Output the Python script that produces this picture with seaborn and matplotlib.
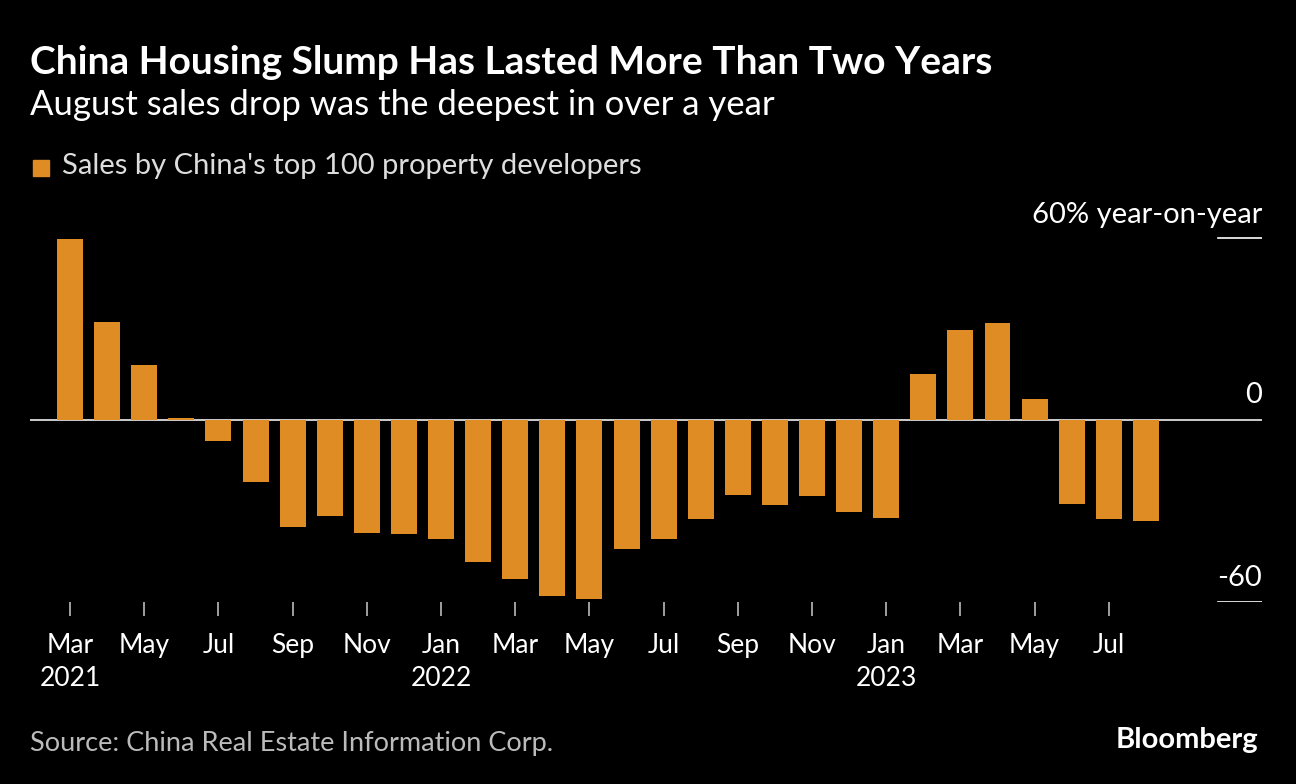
import matplotlib
matplotlib.use("Agg")
import matplotlib.pyplot as plt
import seaborn as sns
import pandas as pd

months = ["Mar 2021","Apr 2021","May 2021","Jun 2021","Jul 2021","Aug 2021","Sep 2021","Oct 2021","Nov 2021","Dec 2021",
          "Jan 2022","Feb 2022","Mar 2022","Apr 2022","May 2022","Jun 2022","Jul 2022","Aug 2022","Sep 2022","Oct 2022",
          "Nov 2022","Dec 2022","Jan 2023","Feb 2023","Mar 2023","Apr 2023","May 2023","Jun 2023","Jul 2023","Aug 2023"]
sales_yoy = [59.7,32.3,18.2,0.7,-6.9,-20.5,-35.3,-31.7,-37.3,-37.6,
             -39.3,-46.9,-52.5,-58.1,-59.1,-42.6,-39.3,-32.7,-24.8,-28.1,
             -25.1,-30.4,-32.3,15.2,29.7,32.0,6.9,-27.7,-32.7,-33.3]
tick_labels = ["Mar\n2021","May","Jul","Sep","Nov","Jan\n2022","Mar","May","Jul","Sep","Nov","Jan\n2023","Mar","May","Jul"]

FONT = "Lato"
plt.rcParams["font.family"] = FONT
BG = "black"; ORANGE = "#E08C24"

df = pd.DataFrame({"month": months, "v": sales_yoy})
fig = plt.figure(figsize=(12.96, 7.84), dpi=100, facecolor=BG)
ax = fig.add_axes([30/1296, 182/784, 1232/1296, 388/784], facecolor=BG)
sns.barplot(data=df, x="month", y="v", color=ORANGE, width=0.7, saturation=1, ax=ax)
ax.set_ylim(-60, 68)
ax.set_xlim(-1.08, 32.13)
for s in ax.spines.values():
    s.set_visible(False)
ax.set_yticks([])
ax.set_xlabel(""); ax.set_ylabel("")
ax.set_xticks(range(0, 30, 2))
ax.set_xticklabels(tick_labels, fontsize=19, color="white", linespacing=1.4)
ax.tick_params(axis="x", length=10, width=1.2, color="#bbbbbb", pad=12)
for lab in ax.get_xticklabels():
    lab.set_verticalalignment("top")
ax.axhline(0, color="#dddddd", lw=1.3, zorder=0)
for y in (60, -60):
    ax.axhline(y, xmin=0.964, xmax=1, color="white", lw=1.2)
tr = ax.get_yaxis_transform()
ax.text(1, 63.5, "60% year-on-year", transform=tr, ha="right", va="bottom", color="white", fontsize=21)
ax.text(1, 4, "0", transform=tr, ha="right", va="bottom", color="white", fontsize=21)
ax.text(1, -56.5, "-60", transform=tr, ha="right", va="bottom", color="white", fontsize=21)

fig.text(30/1296, 1-63/784, "China Housing Slump Has Lasted More Than Two Years", color="white", fontsize=28, fontweight="bold", va="center")
fig.text(30/1296, 1-105/784, "August sales drop was the deepest in over a year", color="white", fontsize=25, va="center")
fig.patches.append(plt.Rectangle((33/1296, 1-176/784), 16/1296, 16/784, transform=fig.transFigure, color=ORANGE))
fig.text(62/1296, 1-166/784, "Sales by China's top 100 property developers", color="#dddddd", fontsize=21, va="center")
fig.text(30/1296, 1-743/784, "Source: China Real Estate Information Corp.", color="#bbbbbb", fontsize=19.5, va="center")
fig.text(1258/1296, 1-740/784, "Bloomberg", color="white", fontsize=21, fontweight="bold", ha="right", va="center")
fig.savefig("out.png", dpi=100, facecolor=BG)
